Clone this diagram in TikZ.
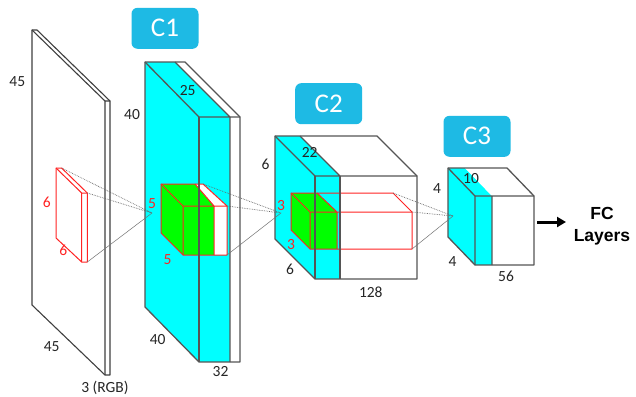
\documentclass[tikz,border=0pt]{standalone}
\usepackage{fontspec}
\setmainfont{Carlito}
\newfontfamily\fcfont{Liberation Sans}
\usetikzlibrary{arrows.meta}
\definecolor{boxblue}{RGB}{30,186,228}
\definecolor{edgegray}{RGB}{85,85,85}
\definecolor{cyanf}{RGB}{0,255,255}
\definecolor{greenf}{RGB}{0,255,0}
\definecolor{redl}{RGB}{255,35,35}
\begin{document}
\begin{tikzpicture}[x=1pt,y=-1pt,
  edge/.style={draw=edgegray,line width=1.3pt,line join=round},
  pedge/.style={draw=black!75,line width=1.1pt,line join=round},
  redge/.style={draw=redl,line width=1pt,line join=round},
  num/.style={font=\fontsize{15.5}{15.5}\selectfont,text=black!85,inner sep=0pt},
  rnum/.style={font=\fontsize{15.5}{15.5}\selectfont,text=redl,inner sep=0pt},
  tag/.style={fill=boxblue,rounded corners=6pt,text=white,font=\fontsize{27}{27}\selectfont,minimum width=67pt,minimum height=41pt,inner sep=0pt},
  link/.style={draw=black!60,densely dotted,line width=0.7pt},
  linksolid/.style={draw=black!55,line width=0.5pt},
]
\useasboundingbox (0,0) rectangle (636,396);
\fill[white] (0,0) rectangle (636,396);

% ---------- input plane ----------
\coordinate (i1) at (32,30);
\coordinate (i2) at (37,30);
\coordinate (i3) at (110,101);
\coordinate (i4) at (110,375);
\coordinate (i5) at (105,375);
\coordinate (i6) at (32,305);
\coordinate (i7) at (105,101);
\path[pedge,fill=white] (i1)--(i2)--(i3)--(i4)--(i5)--(i6)--cycle;
\draw[pedge] (i1)--(i7)--(i5) (i7)--(i3);

% red filter on input
\coordinate (r1) at (56,168);
\coordinate (r2) at (61.6,168);
\coordinate (r3) at (87.3,193);
\coordinate (r4) at (87.3,262);
\coordinate (r5) at (81.7,262);
\coordinate (r6) at (56,238);
\coordinate (r7) at (81.7,193);
\path[redge,fill=white] (r1)--(r2)--(r3)--(r4)--(r5)--(r6)--cycle;
\draw[redge] (r1)--(r7)--(r5) (r7)--(r3);

% ---------- C1 ----------
\coordinate (A) at (145,62);
\coordinate (B) at (175,62);
\coordinate (Cc) at (185,62);
\coordinate (D) at (199,117);
\coordinate (E) at (230,117);
\coordinate (F) at (240,117);
\coordinate (G) at (240,362);
\coordinate (H) at (230,362);
\coordinate (I) at (199,362);
\coordinate (J) at (145,307);
\fill[cyanf] (A)--(D)--(I)--(J)--cycle;
\fill[cyanf] (D)--(E)--(H)--(I)--cycle;
\fill[white] (E)--(F)--(G)--(H)--cycle;
\fill[cyanf] (A)--(B)--(E)--(D)--cycle;
\fill[white] (B)--(Cc)--(F)--(E)--cycle;
\draw[edge] (A)--(Cc)--(F)--(G)--(I)--(J)--cycle;
\draw[edge] (A)--(D) (D)--(F) (B)--(E)--(H);

% green cube in C1
\coordinate (P1) at (161,184);
\coordinate (P2) at (195,184);
\coordinate (P3) at (203,184);
\coordinate (P4) at (183,206);
\coordinate (P5) at (214,206);
\coordinate (P6) at (227,206);
\coordinate (P7) at (227,255);
\coordinate (P8) at (214,255);
\coordinate (P9) at (183,255);
\coordinate (P10) at (161,233);
\fill[greenf] (P1)--(P4)--(P9)--(P10)--cycle;
\fill[greenf] (P4)--(P5)--(P8)--(P9)--cycle;
\fill[white] (P5)--(P6)--(P7)--(P8)--cycle;
\fill[greenf] (P1)--(P2)--(P5)--(P4)--cycle;
\fill[white] (P2)--(P3)--(P6)--(P5)--cycle;
\draw[redge] (P1)--(P3)--(P6)--(P7)--(P9)--(P10)--cycle;
\draw[redge] (P1)--(P4)--(P9) (P4)--(P6) (P5)--(P8) (P2)--(P5);
\draw[edge] (D)--(I);

% ---------- C2 ----------
\coordinate (Q1) at (275,136);
\coordinate (Q2) at (300,136);
\coordinate (Q3) at (377,136);
\coordinate (Q4) at (315,176);
\coordinate (Q5) at (340,176);
\coordinate (Q6) at (417,176);
\coordinate (Q7) at (417,279);
\coordinate (Q8) at (340,279);
\coordinate (Q9) at (315,279);
\coordinate (Q10) at (275,239);
\fill[cyanf] (Q1)--(Q4)--(Q9)--(Q10)--cycle;
\fill[cyanf] (Q4)--(Q5)--(Q8)--(Q9)--cycle;
\fill[white] (Q5)--(Q6)--(Q7)--(Q8)--cycle;
\fill[cyanf] (Q1)--(Q2)--(Q5)--(Q4)--cycle;
\fill[white] (Q2)--(Q3)--(Q6)--(Q5)--cycle;
\draw[edge] (Q1)--(Q3)--(Q6)--(Q7)--(Q9)--(Q10)--cycle;
\draw[edge] (Q1)--(Q4) (Q4)--(Q6) (Q2)--(Q5);

% red box in C2
\coordinate (S1) at (291,193);
\coordinate (S2) at (317,193);
\coordinate (S3) at (393,193);
\coordinate (S4) at (310,212);
\coordinate (S5) at (337,212);
\coordinate (S6) at (412,212);
\coordinate (S7) at (412,249);
\coordinate (S8) at (337,249);
\coordinate (S9) at (310,249);
\coordinate (S10) at (291,230);
\fill[greenf] (S1)--(S4)--(S9)--(S10)--cycle;
\fill[greenf] (S4)--(S5)--(S8)--(S9)--cycle;
\fill[greenf] (S1)--(S2)--(S5)--(S4)--cycle;
\draw[redge] (S1)--(S3)--(S6)--(S7)--(S9)--(S10)--cycle;
\draw[redge] (S1)--(S4)--(S9) (S4)--(S6) (S5)--(S8) (S2)--(S5);
\draw[edge] (Q4)--(Q9) (Q5)--(Q8);

% ---------- C3 ----------
\coordinate (T1) at (448,168);
\coordinate (T2) at (465,168);
\coordinate (T3) at (507,168);
\coordinate (T4) at (475,196);
\coordinate (T5) at (492,196);
\coordinate (T6) at (534,196);
\coordinate (T7) at (534,265);
\coordinate (T8) at (492,265);
\coordinate (T9) at (475,265);
\coordinate (T10) at (448,237);
\fill[cyanf] (T1)--(T4)--(T9)--(T10)--cycle;
\fill[cyanf] (T4)--(T5)--(T8)--(T9)--cycle;
\fill[white] (T5)--(T6)--(T7)--(T8)--cycle;
\fill[cyanf] (T1)--(T2)--(T5)--(T4)--cycle;
\fill[white] (T2)--(T3)--(T6)--(T5)--cycle;
\draw[edge] (T1)--(T3)--(T6)--(T7)--(T9)--(T10)--cycle;
\draw[edge] (T1)--(T4)--(T9) (T4)--(T6) (T5)--(T8);

% ---------- links ----------
\coordinate (p1) at (152,213);
\coordinate (p2) at (281,213);
\coordinate (p3) at (453,216);
\draw[link] (r2)--(p1) (r3)--(p1);
\draw[linksolid] (r4)--(p1);
\draw[link] (P3)--(p2) (P6)--(p2);
\draw[linksolid] (P7)--(p2);
\draw[link] (S3)--(p3) (S6)--(p3);
\draw[linksolid] (S7)--(p3);

% ---------- tags ----------
\node[tag] (c1tag) at (165,28.3) {C1};
\node[tag] (c2tag) at (328.7,103.7) {C2};
\node[tag] (c3tag) at (477,136.3) {C3};

% ---------- labels ----------
\node[num] (l1) at (17.3,81.7) {45};
\node[num] (l2) at (51.7,346.7) {45};
\node[num,anchor=base] (l3) at (105,392) {3 (RGB)};
\node[rnum] (l4) at (46.7,202.7) {6};
\node[rnum] (l5) at (63.3,250) {6};
\node[num] (l6) at (132,115) {40};
\node[num] (l7) at (187.7,90.3) {25};
\node[num] (l8) at (157.7,340) {40};
\node[num] (l9) at (220.5,371.7) {32};
\node[rnum] (l10) at (152,203.3) {5};
\node[rnum] (l11) at (167.5,260) {5};
\node[num] (l12) at (265.5,164) {6};
\node[num] (l13) at (309.7,152.5) {22};
\node[rnum] (l14) at (281,205.3) {3};
\node[rnum] (l15) at (291,244.7) {3};
\node[num] (l16) at (290,269) {6};
\node[num] (l17) at (370.8,292.5) {128};
\node[num] (l18) at (437,188.7) {4};
\node[num] (l19) at (471,179) {10};
\node[num] (l20) at (452.5,261.7) {4};
\node[num] (l21) at (506,276.7) {56};

\node[font=\fcfont\bfseries\fontsize{17.5}{22}\selectfont,align=center,inner sep=0pt] (fc) at (602,226) {FC\\Layers};
\coordinate (arrowstart) at (537,222);
\draw[line width=3pt,-{Triangle[length=9pt,width=10pt]}] (arrowstart)--(566,222);
\end{tikzpicture}
\end{document}
